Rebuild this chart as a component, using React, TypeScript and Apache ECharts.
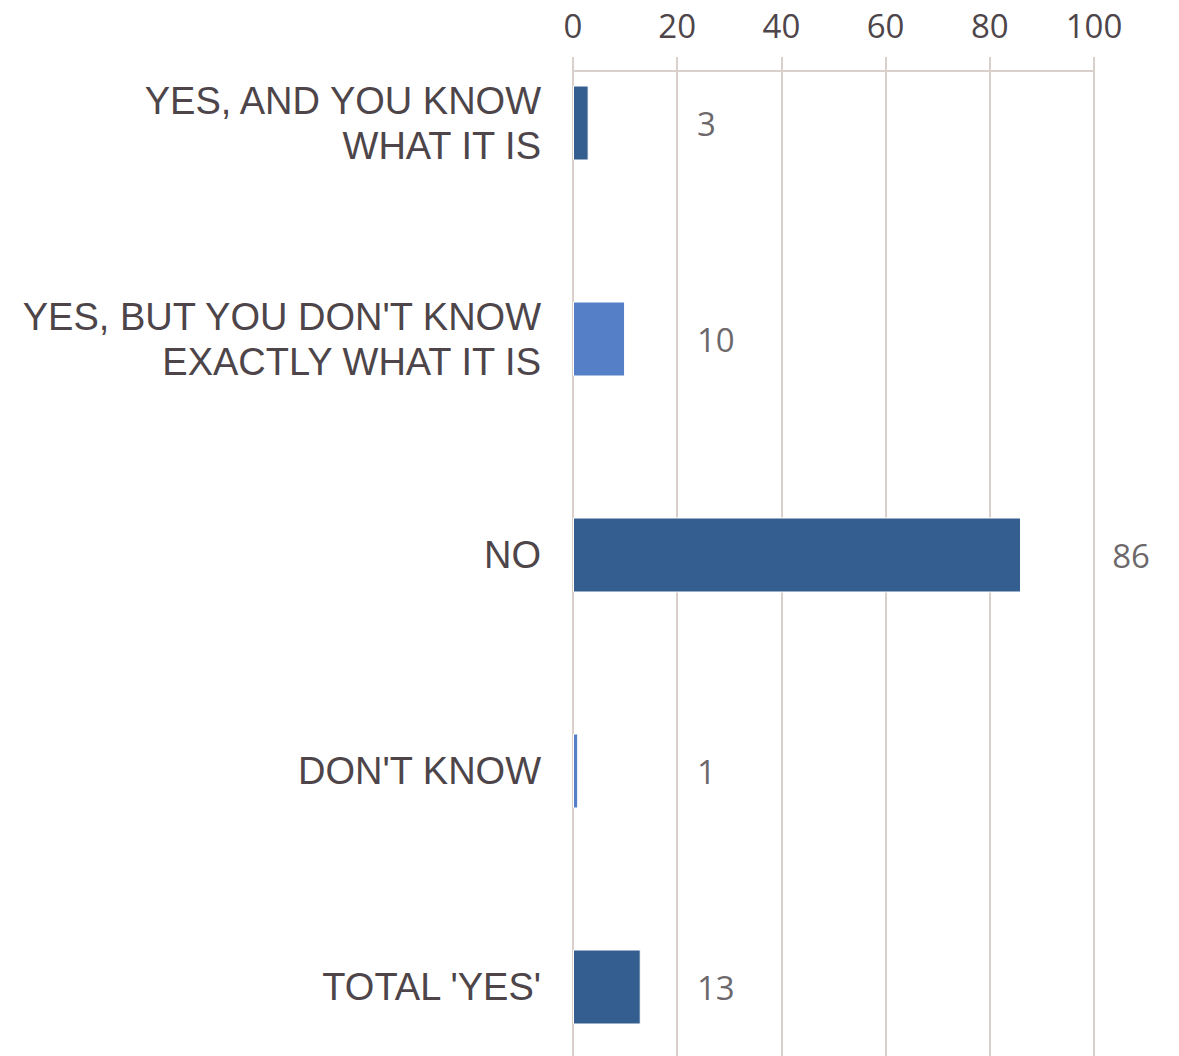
import React, { useEffect, useRef } from "react";
import * as echarts from "echarts";

const categories = [
  "YES, AND YOU KNOW\nWHAT IT IS",
  "YES, BUT YOU DON'T KNOW\nEXACTLY WHAT IT IS",
  "NO",
  "DON'T KNOW",
  "TOTAL 'YES'",
];
const values = [3, 10, 86, 1, 13];
const barColors = ["#345E8F", "#5580C8", "#345E8F", "#5580C8", "#345E8F"];
// where (in axis units) each value label starts
const labelAt = [23.8, 23.8, 103.5, 23.8, 23.8];
const xTicks = { min: 0, max: 100, interval: 20 };

const TEXT = "#4d4549";
const GRID = "#d9d0cb";
const FONT = "'Open Sans', 'DejaVu Sans', sans-serif";
const CAT_FONT = "'Liberation Sans', Arial, sans-serif";

export default function App() {
  const ref = useRef<HTMLDivElement>(null);
  useEffect(() => {
    if (!ref.current) return;
    const chart = echarts.init(ref.current, undefined, { renderer: "svg" });
    chart.setOption({
      animation: false,
      backgroundColor: "#ffffff",
      grid: [
        { left: 573, right: 85, top: 15, bottom: 0, containLabel: false },
        { left: 573, right: 85, top: 71, bottom: 0, containLabel: false },
      ],
      xAxis: [
        { gridIndex: 0, type: "value", ...xTicks, show: false },
        {
          gridIndex: 1,
          type: "value",
          position: "top",
          ...xTicks,
          axisLine: { show: true, onZero: false, lineStyle: { color: GRID, width: 2 } },
          axisTick: { show: true, length: 14, lineStyle: { color: GRID, width: 2 } },
          splitLine: { show: true, lineStyle: { color: GRID, width: 2 } },
          axisLabel: { color: TEXT, fontSize: 33, fontFamily: FONT, margin: 29 },
        },
      ],
      yAxis: [
        {
          gridIndex: 0,
          type: "category",
          inverse: true,
          data: categories,
          axisLine: { show: false },
          axisTick: { show: false },
          axisLabel: {
            color: TEXT,
            fontSize: 38,
            lineHeight: 45,
            fontFamily: CAT_FONT,
            margin: 32,
            align: "right",
          },
        },
        { gridIndex: 1, type: "value", show: false, min: 0, max: 1 },
      ],
      series: [
        {
          type: "bar",
          xAxisIndex: 0,
          yAxisIndex: 0,
          barWidth: 75,
          data: values.map((v, i) => ({
            value: v,
            itemStyle: { color: barColors[i], borderColor: "#ffffff", borderWidth: 1 },
          })),
          z: 3,
        },
        {
          type: "scatter",
          xAxisIndex: 0,
          yAxisIndex: 0,
          clip: false,
          symbolSize: 0,
          data: labelAt.map((x, i) => [x, i]),
          label: {
            show: true,
            position: "right",
            distance: 0,
            color: "#453e42",
            fontSize: 33,
            fontFamily: FONT,
            formatter: (p: any) => String(values[p.dataIndex]),
          },
          z: 4,
        },
      ],
    });
    return () => chart.dispose();
  }, []);
  return (
    <div
      ref={ref}
      style={{ position: "fixed", left: 0, top: 0, width: 1179, height: 1095 }}
    />
  );
}
